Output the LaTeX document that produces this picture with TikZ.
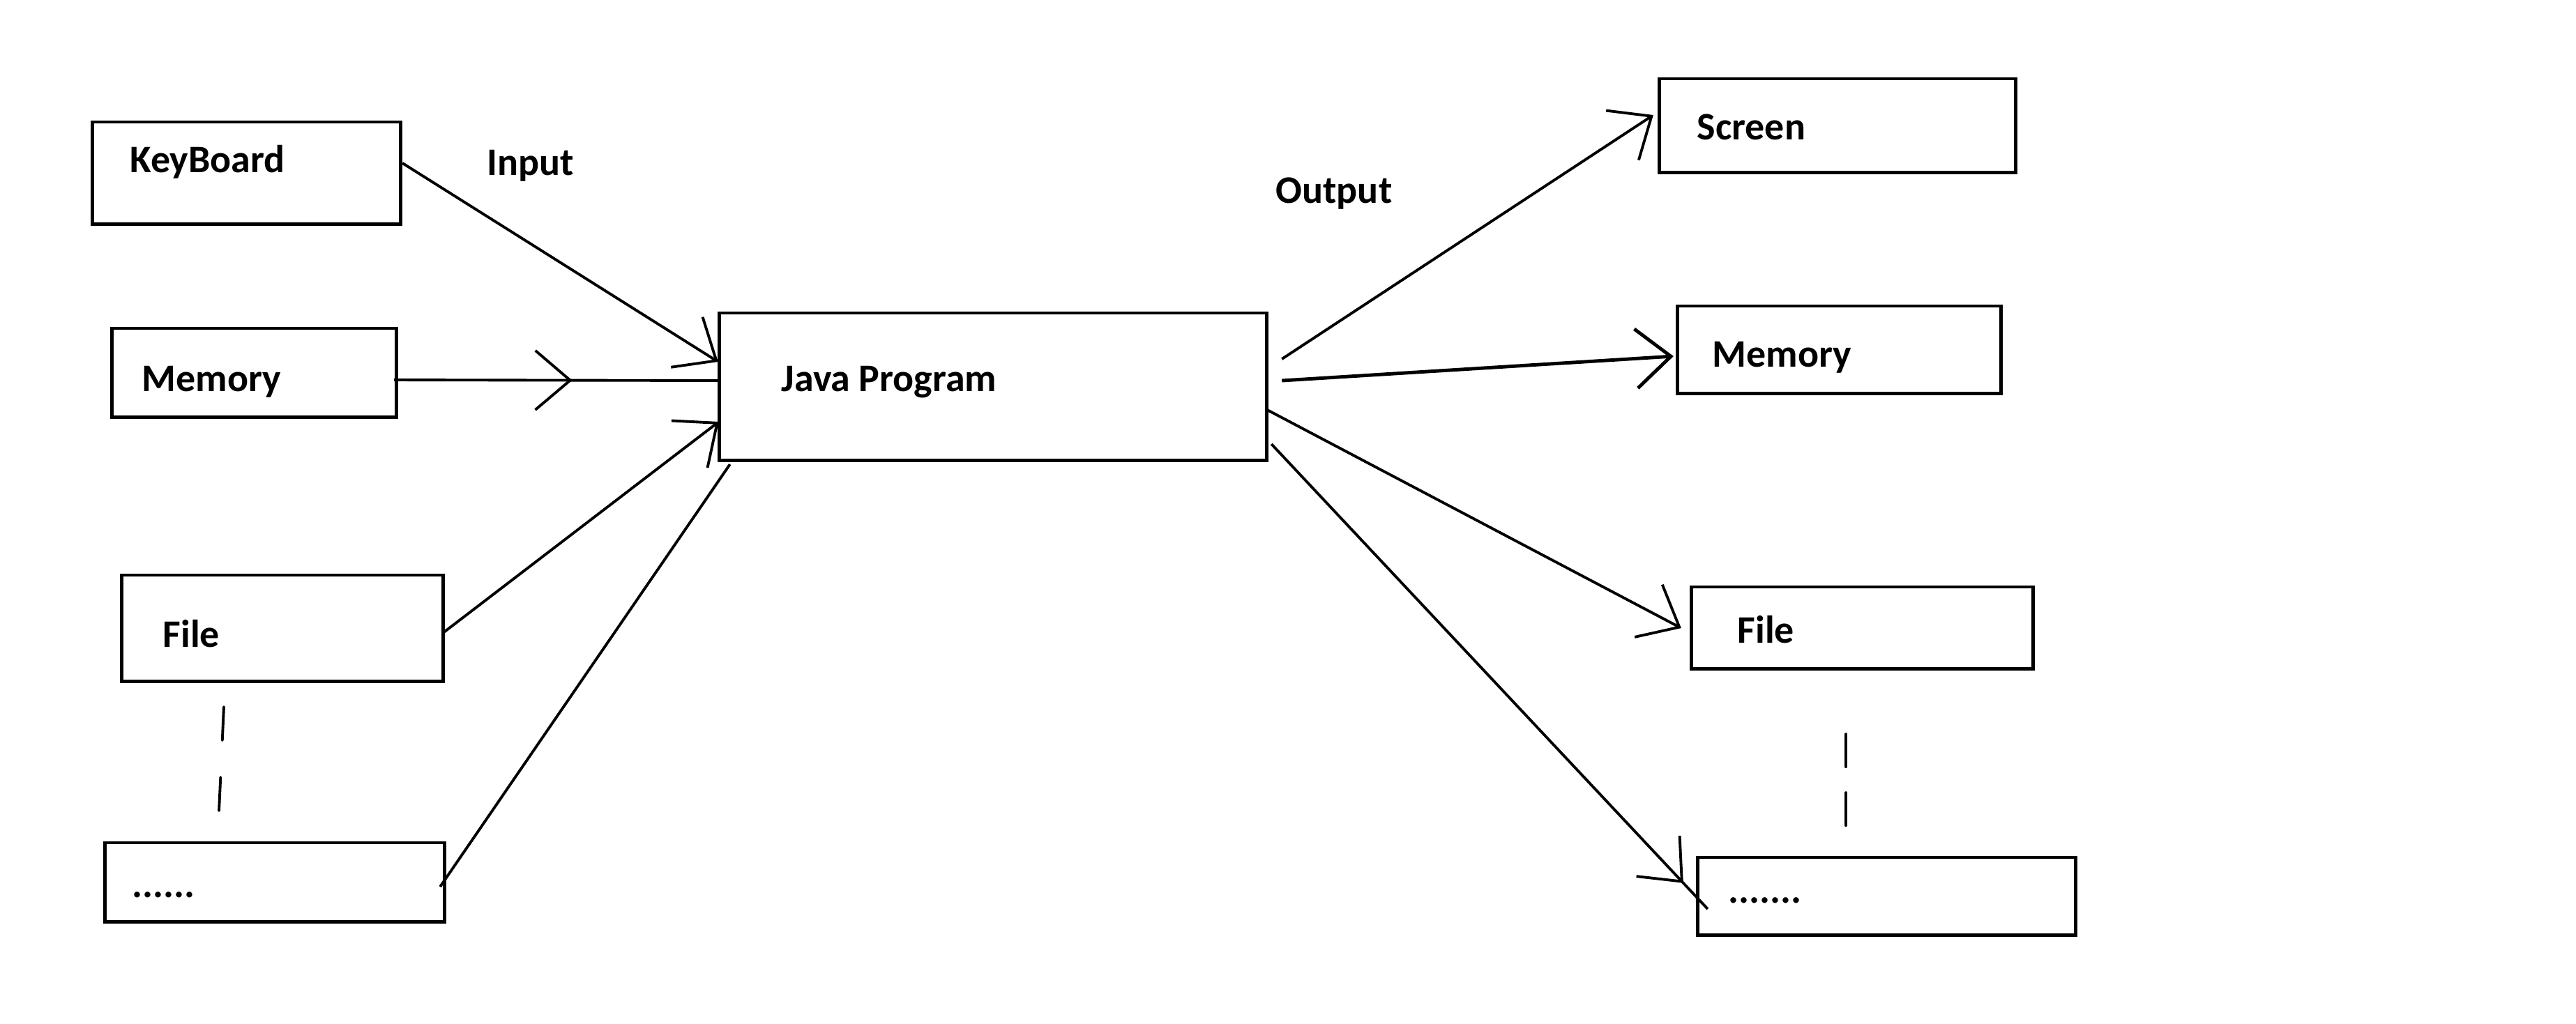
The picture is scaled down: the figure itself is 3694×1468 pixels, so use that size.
\documentclass[tikz,border=0pt]{standalone}
\usepackage{fontspec}
\setmainfont{Carlito}
\usetikzlibrary{arrows.meta,decorations.markings}

\begin{document}
\begin{tikzpicture}[
  x=0.01cm, y=-0.01cm,
  barb/.tip={Straight Barb[length=0.5cm,width=0.85cm]},
  box/.style={draw, line width=1.4pt, inner sep=0pt, outer sep=0pt},
  txt/.style={inner sep=0pt, anchor=base west, font=\fontsize{15.9}{19}\selectfont\bfseries},
  flow/.style={-barb, line width=1.1pt},
  line/.style={line width=1.1pt},
  gap/.style={line width=1.1pt, line cap=round},
  midbarb/.style={postaction={decorate}, decoration={markings, mark=at position #1 with {\arrow{barb}}}}]

\useasboundingbox (0,0) rectangle (3694,1468);

% Position the boxes at their places
\node[box, minimum width=4.41cm, minimum height=1.46cm] (keyboard) at (353.5,248) {};
\node[box, minimum width=4.07cm, minimum height=1.27cm] (memoryIn) at (364.5,534.5) {};
\node[box, minimum width=4.60cm, minimum height=1.52cm] (fileIn) at (405,901) {};
\node[box, minimum width=4.86cm, minimum height=1.13cm] (moreIn) at (394,1265.5) {};
\node[box, minimum width=7.84cm, minimum height=2.11cm] (javaProgram) at (1424,554.5) {};
\node[box, minimum width=5.10cm, minimum height=1.34cm] (screen) at (2635,180) {};
\node[box, minimum width=4.63cm, minimum height=1.25cm] (memoryOut) at (2637.5,501.5) {};
\node[box, minimum width=4.89cm, minimum height=1.17cm] (fileOut) at (2670.5,900.5) {};
\node[box, minimum width=5.41cm, minimum height=1.11cm] (moreOut) at (2705.5,1285.5) {};

% Texts
\node[txt] (keyboardText) at (186,247) {KeyBoard};
\node[txt] (memoryInText) at (203,561) {Memory};
\node[txt] (fileInText) at (233,928) {File};
\node[txt] (moreInText) at (189,1287) {......};
\node[txt] (javaProgramText) at (1120,561) {Java Program};
\node[txt] (screenText) at (2433,200) {Screen};
\node[txt] (memoryOutText) at (2455,526) {Memory};
\node[txt] (fileOutText) at (2491,922) {File};
\node[txt] (moreOutText) at (2478,1295) {.......};
\node[txt] (inputLabel) at (698,251) {Input};
\node[txt] (outputLabel) at (1829,291) {Output};

% Input arrows
\draw [flow] ([shift={(3,-14)}]keyboard.east) -- ([shift={(-2,-35.5)}]javaProgram.west);
\draw [line, midbarb=0.55] ([shift={(-3,10.5)}]memoryIn.east) -- ([shift={(-2,-8.5)}]javaProgram.west);
\draw [flow] (fileIn.east) ++(0,7) -- ([shift={(-1,50.5)}]javaProgram.west);
\draw [line] ([shift={(-6,6.5)}]moreIn.east) -- ([shift={(15,6)}]javaProgram.south west);

% Output arrows
\draw [flow] ([shift={(22,-39.5)}]javaProgram.east) -- ([shift={(-9,-15)}]screen.west);
\draw [flow, line width=1.4pt] ([shift={(22,-8.5)}]javaProgram.east) -- ([shift={(-6,9.5)}]memoryOut.west);
\draw [flow] ([shift={(1,33.5)}]javaProgram.east) -- ([shift={(-15,0.5)}]fileOut.west);
\draw [line, midbarb=0.944] ([shift={(7,82.5)}]javaProgram.east) -- ([shift={(14,18.5)}]moreOut.west);

% Gaps between the last boxes
\draw [gap, dash pattern=on 0.48cm off 0.53cm] ([shift={(-84,37)}]fileIn.south) -- ([shift={(-80,-45)}]moreIn.north);
\draw [gap, dash pattern=on 0.47cm off 0.37cm] ([shift={(-23.5,94)}]fileOut.south) -- ([shift={(-58.5,-45)}]moreOut.north);

\end{tikzpicture}
\end{document}
